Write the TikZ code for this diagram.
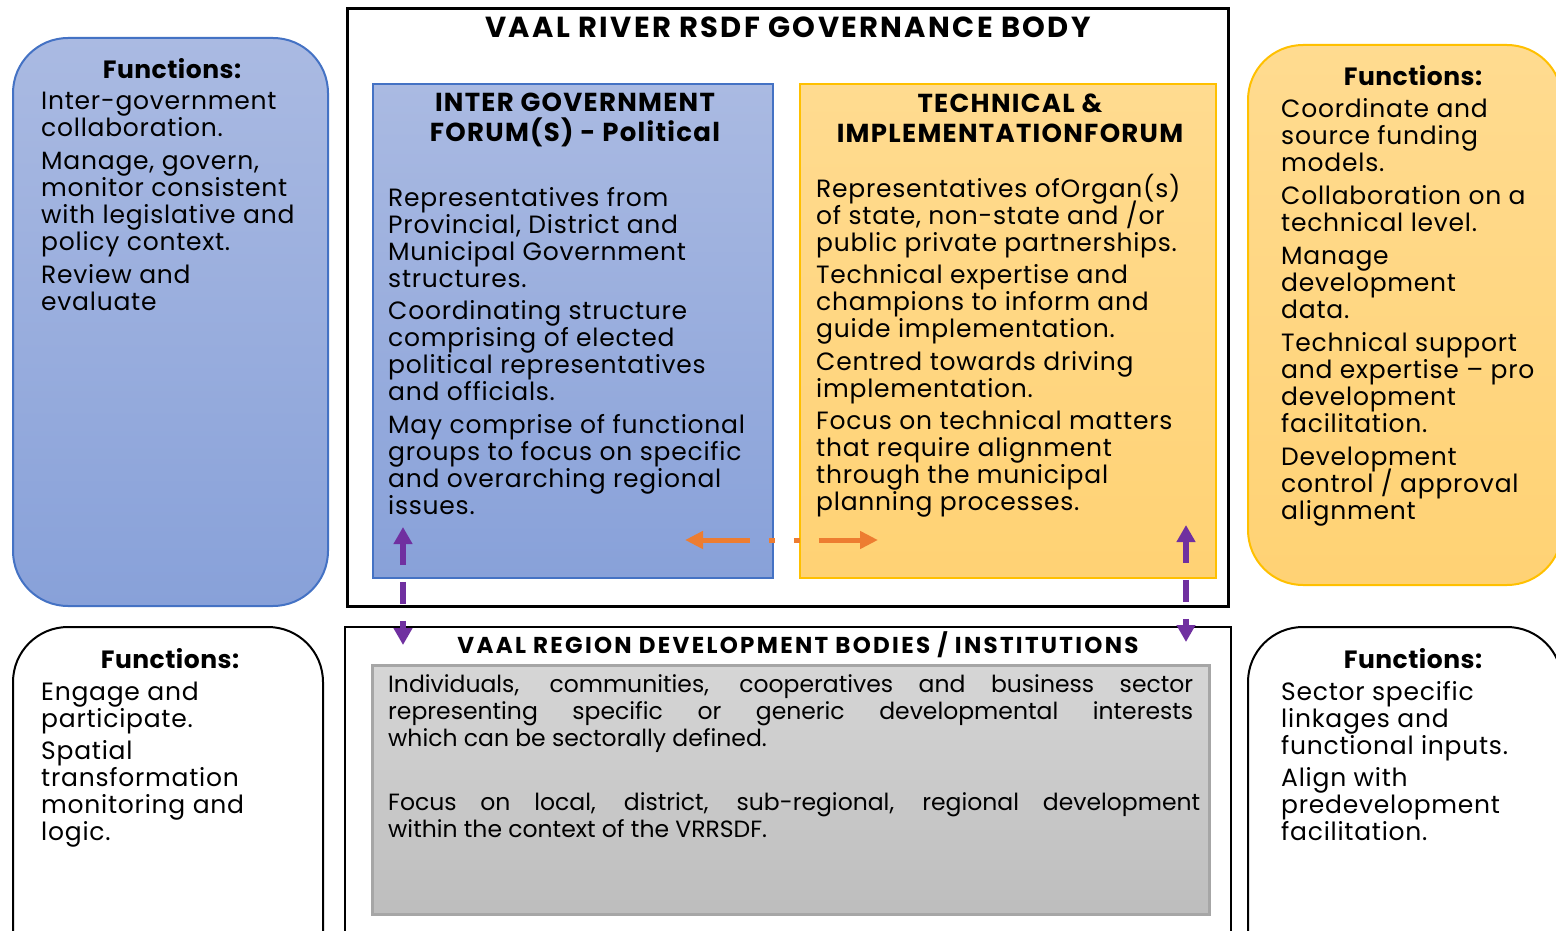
\documentclass[tikz,border=0pt]{standalone}
\usepackage{fontspec}
\setmainfont{Poppins}
\usetikzlibrary{arrows.meta}
\newcommand\mylsfix{\lineskiplimit=-50pt\relax}
\definecolor{bluebord}{HTML}{4472C4}
\definecolor{bluetop}{HTML}{AABAE2}
\definecolor{bluebot}{HTML}{88A1D9}
\definecolor{orbord}{HTML}{FFC000}
\definecolor{ortop}{HTML}{FFDB90}
\definecolor{orbot}{HTML}{FFD274}
\definecolor{greytop}{HTML}{D6D6D6}
\definecolor{greybot}{HTML}{BDBDBD}
\definecolor{greybord}{HTML}{A6A6A6}
\definecolor{purp}{HTML}{7030A0}
\definecolor{orarrow}{HTML}{ED7D31}
\tikzset{
  box/.style={rectangle, inner sep=0pt, outer sep=0pt},
  bluebox/.style={box, draw=bluebord, line width=2pt, top color=bluetop, bottom color=bluebot},
  orbox/.style={box, draw=orbord, line width=2pt, top color=ortop, bottom color=orbot},
  blackbox/.style={box, draw=black, line width=2.5pt, fill=white},
  greybox/.style={box, draw=greybord, line width=3pt, top color=greytop, bottom color=greybot},
  roundbox/.style={rounded corners=55pt},
  body/.style={inner sep=0pt, anchor=north west, align=left, font=\fontsize{25}{27}\selectfont\addfontfeature{LetterSpace=3}\mylsfix},
  greybody/.style={inner sep=0pt, anchor=north west, align=left, font=\fontsize{23.5}{27}\selectfont\mylsfix},
  funcs/.style={inner sep=0pt, font=\fontsize{25}{27}\selectfont\bfseries\addfontfeature{LetterSpace=2}},
  btitle/.style={inner sep=0pt, align=center, font=\fontsize{26}{30}\selectfont\bfseries\addfontfeature{LetterSpace=5}\mylsfix},
  purparr/.style={draw=purp, line width=6pt, {Triangle[length=17pt,width=18pt]}-{Triangle[length=17pt,width=18pt]}, dash pattern=on 22pt off 17pt},
  orarr/.style={draw=orarrow, line width=5pt, {Triangle[length=18pt,width=17pt]}-{Triangle[length=18pt,width=17pt]}, dash pattern=on 48pt off 19pt on 6pt off 19pt on 6pt off 19pt on 80pt}
}
\begin{document}
\begin{tikzpicture}[x=1pt,y=-1pt]
\clip (0,0) rectangle (1556,931);
\fill[white] (0,0) rectangle (1556,931);

% governance body
\node[blackbox, line width=3pt, minimum width=881pt, minimum height=597pt] (gov) at (787.5,307.5) {};
\node[inner sep=0pt, font=\fontsize{29}{30}\selectfont\bfseries\addfontfeature{LetterSpace=8}] (govt) at (788,27) {VAAL RIVER RSDF GOVERNANCE BODY};

% inter government forum
\node[bluebox, minimum width=400pt, minimum height=494pt] (igf) at (573,331) {};
\node[btitle] (igft) at (575,120) {INTER GOVERNMENT\\FORUM(S) - Political};
\node[body] (igfb) at (388,187) {Representatives from\\Provincial, District and\\Municipal Government\\structures.\\[5pt]Coordinating structure\\comprising of elected\\political representatives\\and officials.\\[6pt]May comprise of functional\\groups to focus on specific\\and overarching regional\\issues.};

% technical forum
\node[orbox, minimum width=416pt, minimum height=494pt] (tif) at (1008,331) {};
\node[btitle] (tift) at (1010,118) {TECHNICAL \&\\IMPLEMENTATIONFORUM};
\node[body] (tifb) at (816,174) {Representatives ofOrgan(s)\\of state, non-state and /or\\public private partnerships.\\[5pt]Technical expertise and\\champions to inform and\\guide implementation.\\[6pt]Centred towards driving\\implementation.\\[5pt]Focus on technical matters\\that require alignment\\through the municipal\\planning processes.};

% left top functions
\node[bluebox, roundbox, minimum width=315pt, minimum height=568pt] (lf) at (170.5,322) {};
\node[funcs] (lft) at (172,69) {Functions:};
\node[body] (lfb) at (41,92) {Inter-government\\collaboration.\\[6pt]Manage, govern,\\monitor consistent\\with legislative and\\policy context.\\[6pt]Review and\\evaluate};

% right top functions
\node[orbox, roundbox, minimum width=314pt, minimum height=540pt] (rf) at (1405,315) {};
\node[funcs] (rft) at (1413,76) {Functions:};
\node[body] (rfb) at (1281,98) {Coordinate and\\source funding\\models.\\[6pt]Collaboration on a\\technical level.\\[6pt]Manage\\development\\data.\\[6pt]Technical support\\and expertise -- pro\\development\\facilitation.\\[6pt]Development\\control / approval\\alignment};

% bottom left functions
\node[blackbox, line width=2pt, roundbox, minimum width=310pt, minimum height=363pt] (blf) at (168,808.5) {};
\node[funcs] (blft) at (170,659) {Functions:};
\node[body] (blfb) at (41,682) {Engage and\\participate.\\[5pt]Spatial\\transformation\\monitoring and\\logic.};

% bottom right functions
\node[blackbox, line width=2pt, roundbox, minimum width=314pt, minimum height=363pt] (brf) at (1405,808.5) {};
\node[funcs] (brft) at (1413,659) {Functions:};
\node[body] (brfb) at (1281,681) {Sector specific\\linkages and\\functional inputs.\\[5pt]Align with\\predevelopment\\facilitation.};

% regional bodies
\node[blackbox, minimum width=886pt, minimum height=373pt] (reg) at (788,813.5) {};
\node[inner sep=0pt, font=\fontsize{23}{26}\selectfont\bfseries\addfontfeature{LetterSpace=10}] (regt) at (798,645) {VAAL REGION DEVELOPMENT BODIES / INSTITUTIONS};
\node[greybox, minimum width=837pt, minimum height=249pt] (grey) at (790.5,789.5) {};
\node[greybody] (greyb) at (388,674) {\makebox[805pt][s]{Individuals, communities, cooperatives and business sector}\\\makebox[805pt][s]{representing specific or generic developmental interests}\\which can be sectorally defined.\\[37pt]\makebox[812pt][s]{Focus on local, district, sub-regional, regional development}\\within the context of the VRRSDF.};

% connectors
\coordinate (pl1) at (403,527);
\coordinate (pl2) at (403,645);
\coordinate (pr1) at (1186,525);
\coordinate (pr2) at (1186,642);
\coordinate (ol) at (685,540);
\coordinate (or) at (878,540);
\draw[purparr] (pl1) -- (pl2);
\draw[purparr] (pr1) -- (pr2);
\draw[orarr] (ol) -- (or);
\end{tikzpicture}
\end{document}
